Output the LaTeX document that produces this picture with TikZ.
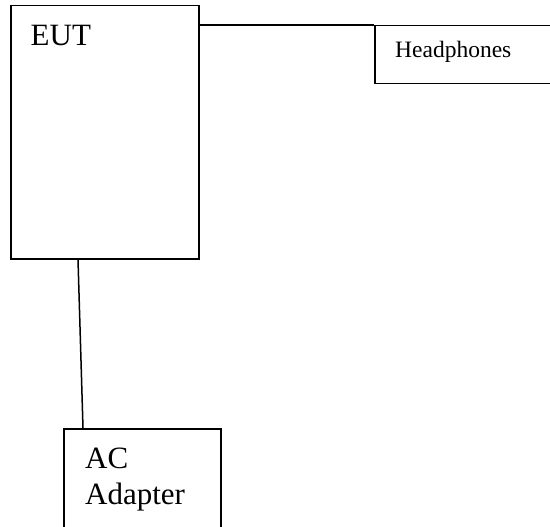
\documentclass[tikz,border=0pt]{standalone}
\usepackage{fontspec}
\setmainfont{Liberation Serif}
\begin{document}
\begin{tikzpicture}[
  x=1pt, y=-1pt,
  box/.style={rectangle, draw=black, line width=1.5pt, anchor=north west, inner sep=0pt},
  big/.style={font=\fontsize{31}{36}\selectfont, anchor=base west, inner sep=0pt, align=left},
  small/.style={font=\fontsize{23.5}{27}\selectfont, anchor=base west, inner sep=0pt}
]
  \useasboundingbox (0,0) rectangle (550,527);
  \clip (0,0) rectangle (550,527);
  \node[box, minimum width=188pt, minimum height=253pt] (eut) at (10,5) {};
  \node[box, minimum width=190pt, minimum height=58pt] (hp) at (374,25) {};
  \node[box, minimum width=157pt, minimum height=115pt] (ac) at (63,428) {};
  \node[big] (eutlabel) at (30.5,45.5) {EUT};
  \node[small] (hplabel) at (395,58) {Headphones};
  \node[big] (aclabel) at (85,504) {AC\\Adapter};
  % cables
  \draw[line width=1.5pt] (eut.east |- hp.north) -- (hp.north west);
  \draw[line width=1.5pt] ([xshift=68pt]eut.south west) -- ([xshift=20pt]ac.north west);
\end{tikzpicture}
\end{document}
